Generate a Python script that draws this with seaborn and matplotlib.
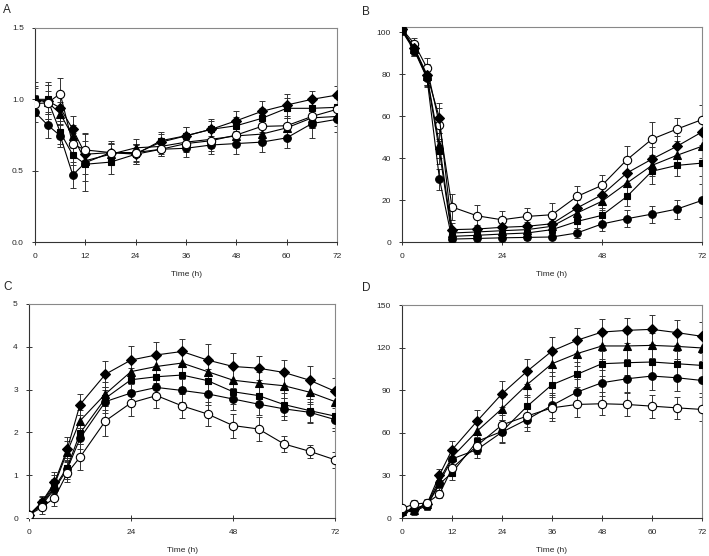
import matplotlib
matplotlib.use('Agg')
import matplotlib.pyplot as plt
import numpy as np
import pandas as pd
import seaborn as sns

# sampling times (h), same for all four panels
time_h = [0, 3, 6, 9, 12, 18, 24, 30, 36, 42, 48, 54, 60, 66, 72]

# panel A
a_diamond = [0.99, 0.99, 0.94, 0.79, 0.615, 0.627, 0.62, 0.70, 0.744, 0.79, 0.85, 0.915, 0.96, 1.00, 1.03]
a_square = [1.00, 1.00, 0.77, 0.61, 0.545, 0.56, 0.615, 0.71, 0.745, 0.79, 0.815, 0.866, 0.937, 0.937, 0.944]
a_triangle = [1.00, 0.98, 0.90, 0.74, 0.57, 0.615, 0.66, 0.67, 0.70, 0.72, 0.744, 0.756, 0.80, 0.87, 0.88]
a_circle = [0.91, 0.82, 0.745, 0.47, 0.556, 0.627, 0.615, 0.65, 0.657, 0.68, 0.69, 0.70, 0.73, 0.83, 0.86]
a_open = [0.97, 0.975, 1.04, 0.685, 0.645, 0.627, 0.627, 0.65, 0.69, 0.71, 0.75, 0.81, 0.815, 0.88, 0.93]
a_diamond_err = [0.10, 0.13, 0.09, 0.09, 0.09, 0.07, 0.06, 0.06, 0.06, 0.07, 0.07, 0.07, 0.08, 0.06, 0.06]
a_square_err = [0.12, 0.10, 0.08, 0.07, 0.12, 0.08, 0.07, 0.06, 0.06, 0.06, 0.06, 0.07, 0.07, 0.08, 0.07]
a_triangle_err = [0.08, 0.12, 0.08, 0.08, 0.09, 0.07, 0.06, 0.05, 0.05, 0.06, 0.06, 0.07, 0.07, 0.07, 0.07]
a_circle_err = [0.07, 0.09, 0.08, 0.09, 0.20, 0.08, 0.07, 0.05, 0.06, 0.06, 0.07, 0.07, 0.07, 0.10, 0.09]
a_open_err = [0.06, 0.08, 0.11, 0.08, 0.12, 0.06, 0.06, 0.05, 0.06, 0.07, 0.07, 0.07, 0.10, 0.08, 0.08]

# panel B
b_open = [101.5, 94.3, 82.9, 55.9, 16.7, 12.5, 10.6, 12.2, 13.0, 21.7, 27.0, 39.2, 49.0, 53.8, 58.3]
b_diamond = [101.5, 92.4, 79.7, 59.0, 5.9, 6.2, 7.0, 7.5, 8.7, 16.2, 22.5, 32.9, 39.5, 45.6, 52.4]
b_triangle = [101.0, 92.0, 79.0, 46.0, 4.3, 4.8, 5.4, 5.9, 7.5, 13.8, 19.4, 28.1, 36.5, 41.3, 45.6]
b_square = [101.0, 91.5, 78.5, 43.2, 2.7, 3.2, 3.8, 4.3, 5.9, 9.8, 12.7, 21.7, 33.7, 36.5, 37.6]
b_circle = [100.5, 91.0, 78.0, 30.0, 1.4, 1.7, 2.0, 2.2, 2.4, 4.3, 8.6, 11.1, 13.3, 15.7, 19.8]
b_open_err = [1.0, 3.0, 5.0, 8.0, 6.0, 5.0, 4.0, 4.0, 5.5, 5.0, 5.0, 6.5, 8.0, 5.5, 7.0]
b_diamond_err = [1.0, 3.0, 5.0, 7.0, 3.0, 2.0, 2.0, 2.0, 2.5, 4.0, 4.5, 5.0, 6.0, 5.0, 6.0]
b_triangle_err = [1.0, 3.0, 4.0, 6.0, 2.0, 2.0, 2.0, 2.0, 2.5, 3.5, 4.0, 5.0, 5.0, 4.5, 5.5]
b_square_err = [1.0, 3.0, 4.0, 6.0, 2.0, 1.5, 1.5, 1.5, 2.0, 3.0, 3.5, 4.5, 6.0, 5.0, 6.0]
b_circle_err = [1.0, 2.5, 4.0, 5.0, 1.0, 1.0, 1.0, 1.0, 1.0, 2.5, 3.5, 4.0, 4.0, 4.5, 8.0]

# panel C
c_diamond = [0.07, 0.37, 0.83, 1.61, 2.65, 3.36, 3.69, 3.81, 3.89, 3.69, 3.54, 3.50, 3.40, 3.22, 2.96]
c_triangle = [0.07, 0.35, 0.78, 1.55, 2.27, 2.90, 3.42, 3.54, 3.62, 3.42, 3.22, 3.15, 3.09, 2.94, 2.72]
c_square = [0.07, 0.33, 0.72, 1.18, 1.98, 2.80, 3.23, 3.30, 3.34, 3.21, 2.95, 2.86, 2.65, 2.51, 2.38]
c_circle = [0.07, 0.30, 0.68, 1.14, 1.86, 2.72, 2.92, 3.05, 2.98, 2.90, 2.78, 2.66, 2.55, 2.47, 2.30]
c_open = [0.07, 0.25, 0.47, 1.05, 1.42, 2.27, 2.69, 2.86, 2.62, 2.43, 2.16, 2.08, 1.73, 1.56, 1.36]
c_diamond_err = [0.03, 0.15, 0.25, 0.28, 0.25, 0.30, 0.32, 0.30, 0.30, 0.38, 0.32, 0.28, 0.30, 0.32, 0.32]
c_triangle_err = [0.03, 0.14, 0.22, 0.25, 0.25, 0.28, 0.28, 0.27, 0.28, 0.30, 0.28, 0.26, 0.28, 0.28, 0.28]
c_square_err = [0.03, 0.12, 0.20, 0.22, 0.25, 0.27, 0.27, 0.26, 0.27, 0.28, 0.28, 0.25, 0.26, 0.26, 0.27]
c_circle_err = [0.03, 0.12, 0.20, 0.22, 0.25, 0.27, 0.27, 0.26, 0.26, 0.27, 0.26, 0.25, 0.25, 0.25, 0.26]
c_open_err = [0.03, 0.15, 0.18, 0.20, 0.30, 0.35, 0.30, 0.30, 0.28, 0.27, 0.28, 0.27, 0.18, 0.15, 0.18]

# panel D
d_diamond = [4.5, 6.4, 9.9, 30.4, 48.0, 68.2, 87.5, 103.3, 117.6, 125.2, 131.0, 132.2, 132.9, 130.6, 128.0]
d_triangle = [5.0, 6.0, 10.0, 27.0, 42.8, 61.2, 77.0, 93.9, 108.7, 115.8, 121.2, 121.2, 121.6, 120.9, 119.8]
d_square = [4.0, 5.0, 8.7, 24.0, 31.8, 54.0, 61.0, 78.6, 93.9, 101.2, 108.7, 109.4, 109.9, 108.7, 107.5]
d_circle = [4.5, 6.0, 9.0, 25.0, 41.6, 48.2, 60.5, 69.4, 79.3, 88.7, 95.3, 98.1, 100.0, 98.8, 96.9]
d_open = [6.8, 9.9, 10.6, 16.9, 35.0, 51.0, 65.6, 71.8, 77.6, 80.0, 80.5, 80.0, 78.8, 77.6, 76.5]
d_diamond_err = [2.0, 3.0, 3.0, 4.0, 6.0, 8.0, 9.0, 9.0, 10.0, 9.0, 9.0, 9.0, 10.0, 9.0, 10.0]
d_triangle_err = [2.0, 3.0, 3.0, 4.0, 6.0, 7.0, 8.0, 9.0, 9.0, 9.0, 9.0, 9.0, 9.0, 9.0, 9.0]
d_square_err = [2.0, 3.0, 3.0, 4.0, 5.0, 6.0, 8.0, 8.0, 9.0, 9.0, 9.0, 9.0, 9.0, 9.0, 9.0]
d_circle_err = [2.0, 3.0, 3.0, 4.0, 5.0, 6.0, 7.0, 8.0, 9.0, 9.0, 9.0, 9.0, 10.0, 9.0, 9.0]
d_open_err = [2.0, 3.0, 3.0, 3.0, 5.0, 6.0, 7.0, 8.0, 9.0, 9.0, 8.0, 8.0, 8.0, 8.0, 8.5]

panel_letters = ['A', 'B', 'C', 'D']
x_label = 'Time (h)'

# marker styles for the five series
styles = {
    'diamond': dict(marker='D', mfc='black', ms=5),
    'triangle': dict(marker='^', mfc='black', ms=5.5),
    'square': dict(marker='s', mfc='black', ms=5),
    'circle': dict(marker='o', mfc='black', ms=5.5),
    'open': dict(marker='o', mfc='white', ms=6),
}


def draw_panel(ax, series, yticks, ylim, xticks):
    for name, vals, errs in series:
        df = pd.DataFrame({'t': time_h, 'y': vals, 'e': errs})
        ax.errorbar(df['t'], df['y'], yerr=df['e'], fmt='none', ecolor='#333333',
                    elinewidth=0.7, capsize=2.5, capthick=0.7, zorder=1)
        st = styles[name]
        sns.lineplot(data=df, x='t', y='y', ax=ax, color='black', lw=0.8,
                     marker=st['marker'], markersize=st['ms'], markerfacecolor=st['mfc'],
                     markeredgecolor='black', markeredgewidth=0.8, zorder=3)
    ax.set_xlim(0, 72)
    ax.set_ylim(*ylim)
    ax.set_xticks(xticks)
    ax.set_yticks(yticks)
    ax.tick_params(direction='inout', length=4, width=0.7, labelsize=6, pad=6, color='#333333')
    ax.set_xlabel(x_label, fontsize=6, labelpad=8)
    ax.set_ylabel('')
    for s in ['left', 'bottom']:
        ax.spines[s].set_color('#333333')
        ax.spines[s].set_linewidth(0.8)
    for s in ['top', 'right']:
        ax.spines[s].set_color('#888888')
        ax.spines[s].set_linewidth(0.8)


sns.set_style('ticks')
plt.rcParams['font.family'] = ['Liberation Sans', 'DejaVu Sans']

fig = plt.figure(figsize=(7.09, 5.56), dpi=100)
ax_a = fig.add_axes([0.0494, 0.5647, 0.426, 0.385])
ax_b = fig.add_axes([0.567, 0.5647, 0.423, 0.387])
ax_c = fig.add_axes([0.0409, 0.0683, 0.4316, 0.385])
ax_d = fig.add_axes([0.567, 0.0683, 0.423, 0.383])

draw_panel(ax_a, [('diamond', a_diamond, a_diamond_err), ('square', a_square, a_square_err),
                  ('triangle', a_triangle, a_triangle_err), ('circle', a_circle, a_circle_err),
                  ('open', a_open, a_open_err)],
           [0.0, 0.5, 1.0, 1.5], (0, 1.5), [0, 12, 24, 36, 48, 60, 72])
ax_a.set_yticklabels(['0.0', '0.5', '1.0', '1.5'])

draw_panel(ax_b, [('open', b_open, b_open_err), ('diamond', b_diamond, b_diamond_err),
                  ('triangle', b_triangle, b_triangle_err), ('square', b_square, b_square_err),
                  ('circle', b_circle, b_circle_err)],
           [0, 20, 40, 60, 80, 100], (0, 102.5), [0, 24, 48, 72])

draw_panel(ax_c, [('diamond', c_diamond, c_diamond_err), ('triangle', c_triangle, c_triangle_err),
                  ('square', c_square, c_square_err), ('circle', c_circle, c_circle_err),
                  ('open', c_open, c_open_err)],
           [0, 1, 2, 3, 4, 5], (0, 5), [0, 24, 48, 72])

draw_panel(ax_d, [('diamond', d_diamond, d_diamond_err), ('triangle', d_triangle, d_triangle_err),
                  ('square', d_square, d_square_err), ('circle', d_circle, d_circle_err),
                  ('open', d_open, d_open_err)],
           [0, 30, 60, 90, 120, 150], (0, 150), [0, 12, 24, 36, 48, 60, 72])

for ax, letter, (px, py) in zip([ax_a, ax_b, ax_c, ax_d], panel_letters,
                                [(3, 10), (362, 12), (3, 287), (362, 288)]):
    fig.text(px / 709, 1 - py / 556, letter, fontsize=8.5, ha='left', va='center')

fig.savefig('out.png', dpi=100)
